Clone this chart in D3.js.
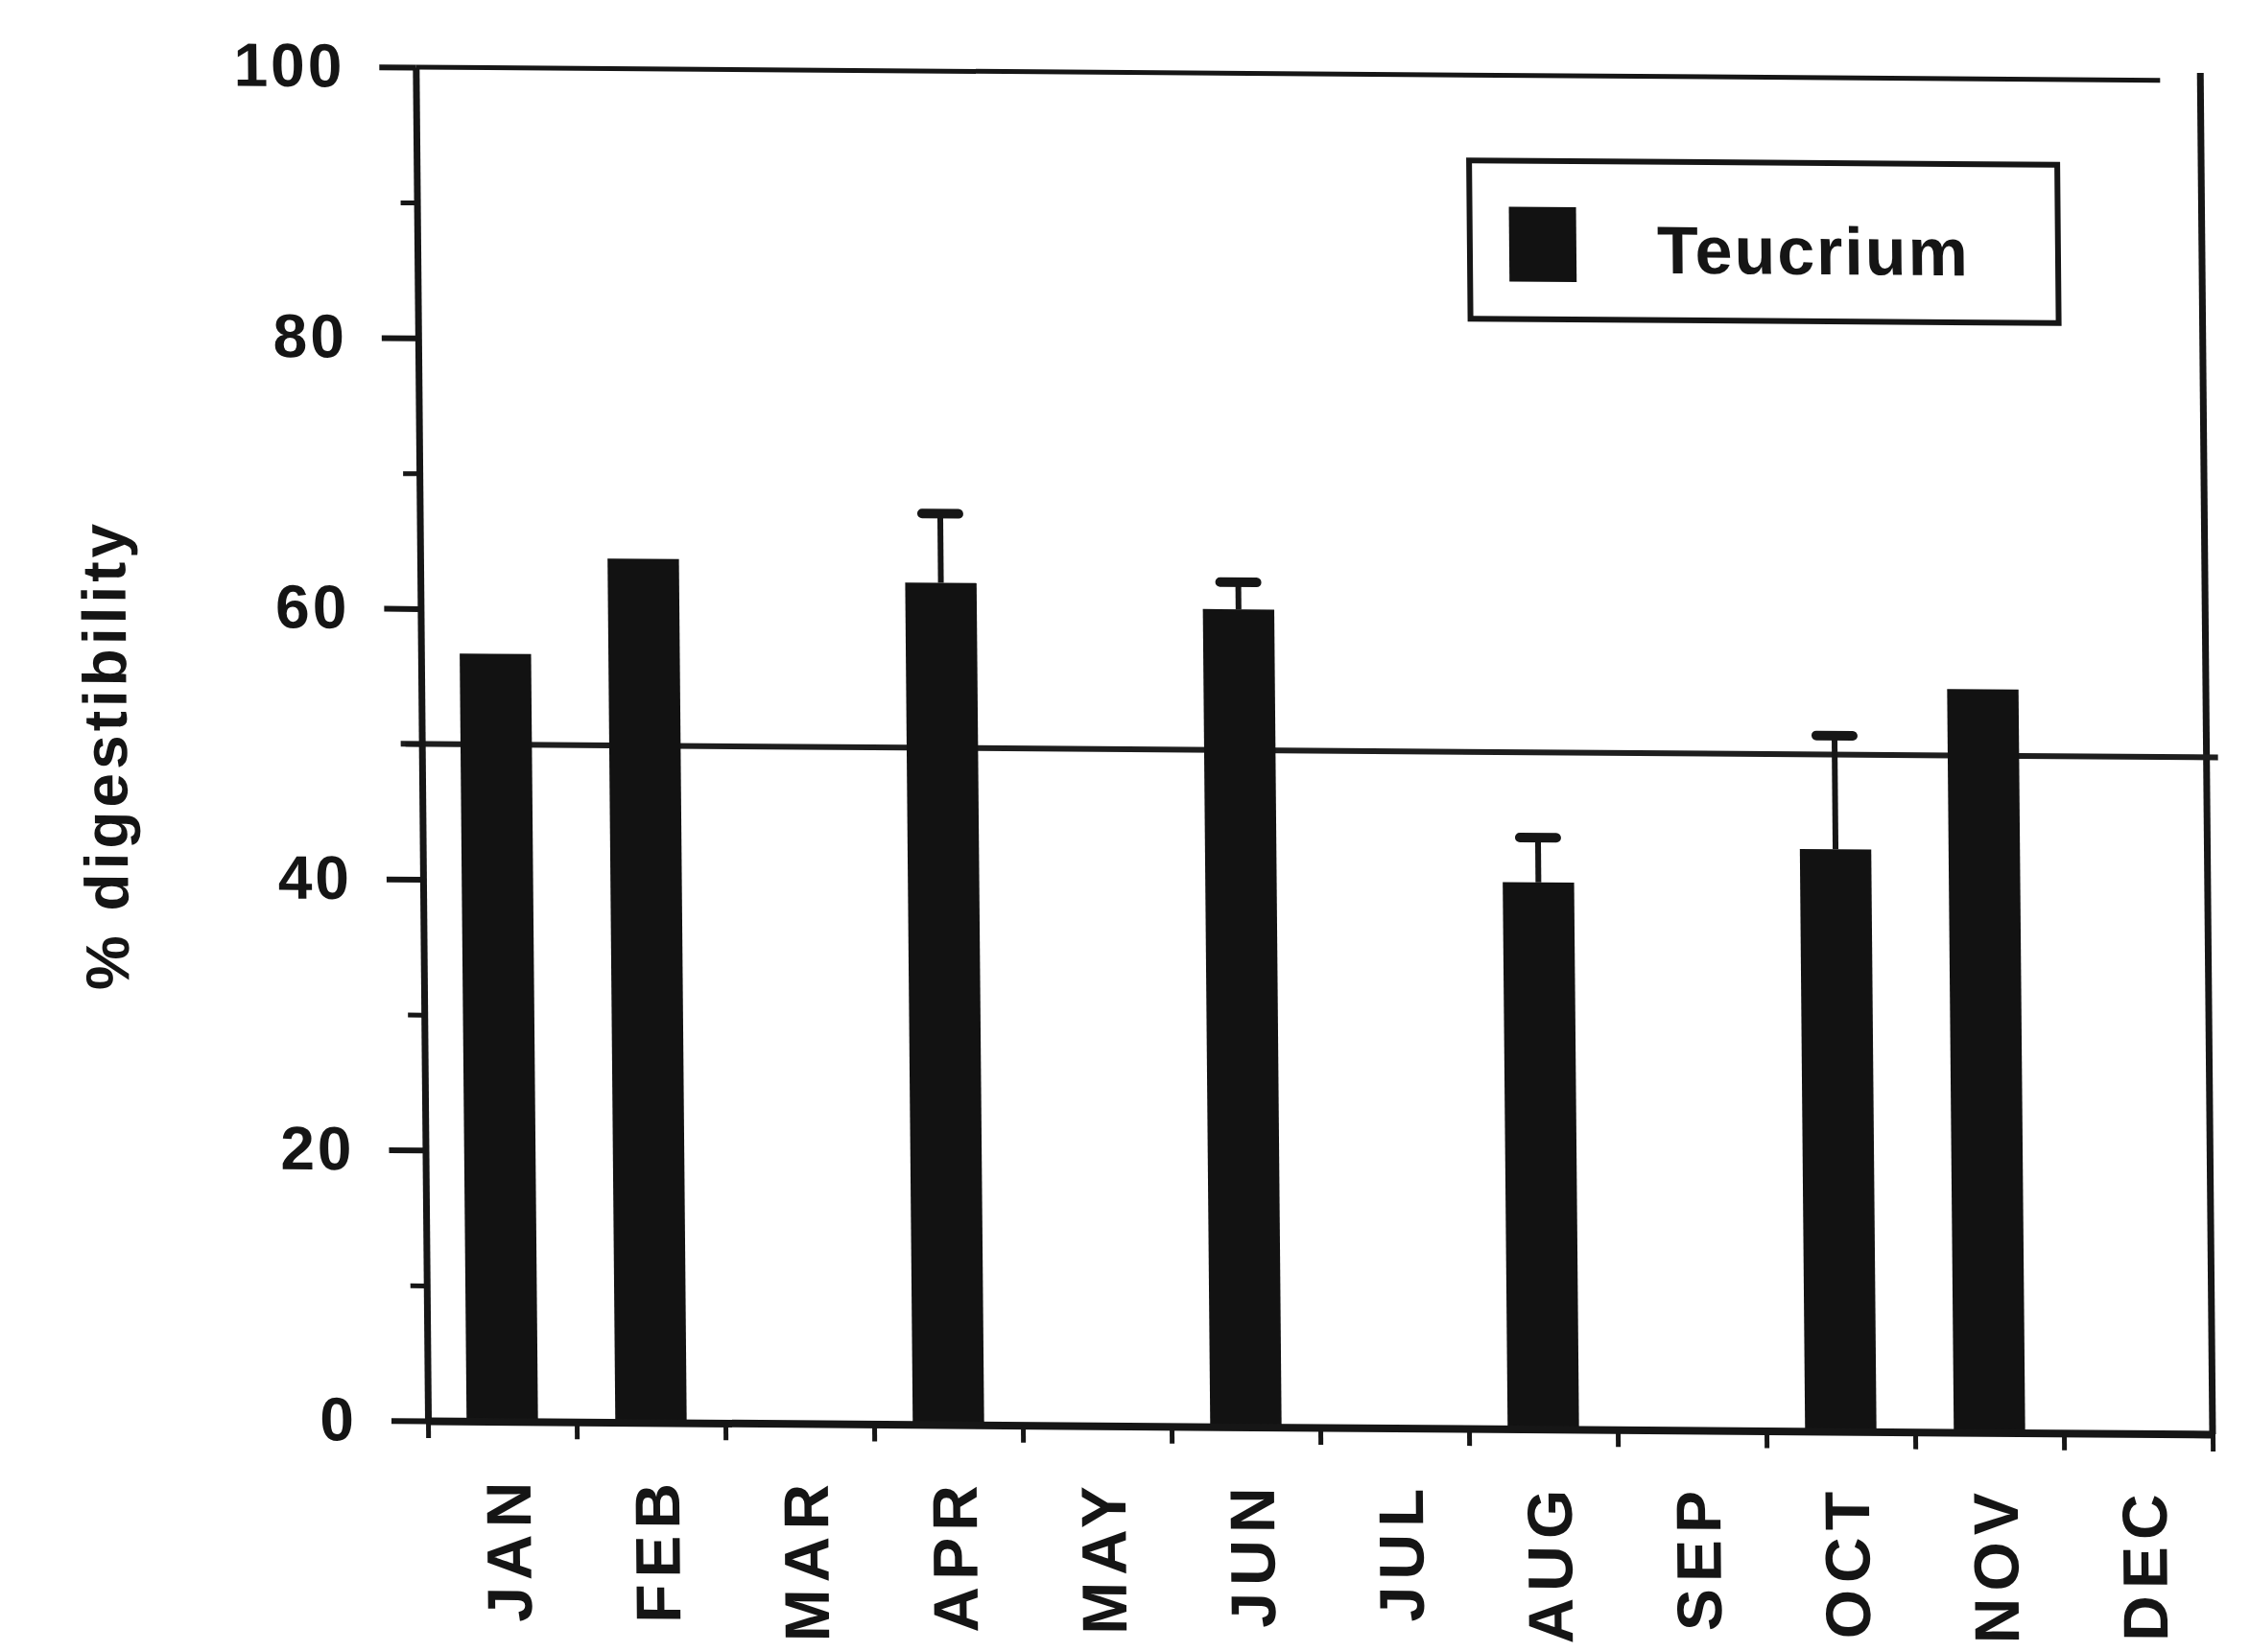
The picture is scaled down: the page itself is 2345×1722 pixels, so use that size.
<!DOCTYPE html>
<html>
<head>
<meta charset="utf-8">
<script src="https://cdn.jsdelivr.net/npm/d3@7"></script>
<style>
  html, body { margin: 0; padding: 0; background: #ffffff; }
  svg { display: block; }
  text { font-family: "Liberation Sans", Arial, Helvetica, sans-serif; font-weight: bold; fill: #151515; }
</style>
</head>
<body>
<script>
// ---- data ----
const months = ["JAN", "FEB", "MAR", "APR", "MAY", "JUN", "JUL", "AUG", "SEP", "OCT", "NOV", "DEC"];
const digestibility = [56.7, 63.8, null, 62.2, null, 60.4, null, 40.4, null, 43.0, 54.9, null];
const errorUpper = [null, null, null, 5.1, null, 2.0, null, 3.3, null, 8.4, null, null];
const yMajorTicks = [0, 20, 40, 60, 80, 100];
const yMinorTicks = [10, 30, 50, 70, 90];
const referenceLevel = 50;
const seriesName = "Teucrium";
const yAxisTitle = "% digestibility";

(function () {
// ---- layout ----
const W = 2345, H = 1722;
const pLeft = 446, pRight = 2306, pTop = 70, pBottom = 1481;
const ink = "#161616";

const svg = d3.select("body").append("svg").attr("width", W).attr("height", H);
svg.append("rect").attr("width", W).attr("height", H).attr("fill", "#ffffff");

// slight skew of the scanned figure
const a = 0.009, b = 0.0075;
const g = svg.append("g")
  .attr("transform", `matrix(1, ${b}, ${a}, 1, ${-a * pBottom}, ${-b * pLeft})`);

const x = d3.scaleBand().domain(months).range([pLeft, pRight]).paddingInner(0.52).paddingOuter(0.26);
const xEdges = d3.scaleLinear().domain([0, months.length]).range([pLeft, pRight]);
const y = d3.scaleLinear().domain([0, 100]).range([pBottom, pTop]);

// top frame line
g.append("line")
  .attr("x1", pLeft).attr("x2", pRight - 42)
  .attr("y1", y(100)).attr("y2", y(100))
  .attr("stroke", ink).attr("stroke-width", 5);

// right frame line
g.append("line")
  .attr("x1", pRight).attr("x2", pRight)
  .attr("y1", y(0)).attr("y2", y(100) - 8)
  .attr("stroke", ink).attr("stroke-width", 7);

// reference line at 50
g.append("line")
  .attr("x1", pLeft - 22).attr("x2", pRight + 12)
  .attr("y1", y(referenceLevel)).attr("y2", y(referenceLevel))
  .attr("stroke", "#1e1e1e").attr("stroke-width", 6);

// bars
const data = months.map((m, i) => ({ m, v: digestibility[i], e: errorUpper[i] }));
g.selectAll("rect.bar")
  .data(data.filter(d => d.v != null))
  .join("rect")
  .attr("class", "bar")
  .attr("x", d => x(d.m))
  .attr("width", x.bandwidth())
  .attr("y", d => y(d.v))
  .attr("height", d => y(0) - y(d.v))
  .attr("fill", "#121212");

// error bars (upper)
const eb = data.filter(d => d.v != null && d.e != null);
g.selectAll("line.errv")
  .data(eb)
  .join("line")
  .attr("class", "errv")
  .attr("x1", d => x(d.m) + x.bandwidth() / 2)
  .attr("x2", d => x(d.m) + x.bandwidth() / 2)
  .attr("y1", d => y(d.v))
  .attr("y2", d => y(d.v + d.e))
  .attr("stroke", ink).attr("stroke-width", 6);
g.selectAll("line.errc")
  .data(eb)
  .join("line")
  .attr("class", "errc")
  .attr("x1", d => x(d.m) + x.bandwidth() / 2 - 19)
  .attr("x2", d => x(d.m) + x.bandwidth() / 2 + 19)
  .attr("y1", d => y(d.v + d.e))
  .attr("y2", d => y(d.v + d.e))
  .attr("stroke", ink).attr("stroke-width", 10).attr("stroke-linecap", "round");

// y axis major
const yAxis = g.append("g").attr("transform", `translate(${pLeft},0)`)
  .call(d3.axisLeft(y).tickValues(yMajorTicks).tickSize(38).tickSizeOuter(0).tickPadding(36));
yAxis.select(".domain").attr("stroke", ink).attr("stroke-width", 7);
yAxis.selectAll(".tick line").attr("stroke", ink).attr("stroke-width", 6);
yAxis.selectAll(".tick text")
  .attr("font-size", 64).attr("letter-spacing", 3).attr("fill", "#151515")
  .attr("font-family", "'Liberation Sans', Arial, sans-serif").attr("font-weight", "bold");

// y axis minor
const yMinor = g.append("g").attr("transform", `translate(${pLeft},0)`)
  .call(d3.axisLeft(y).tickValues(yMinorTicks).tickSize(17).tickFormat(""));
yMinor.select(".domain").remove();
yMinor.selectAll(".tick line").attr("stroke", ink).attr("stroke-width", 5);

// x axis (ticks at category boundaries)
const xAxis = g.append("g").attr("transform", `translate(0,${pBottom})`)
  .call(d3.axisBottom(xEdges).tickValues(d3.range(0, months.length + 1)).tickSize(18).tickSizeOuter(0).tickFormat(""));
xAxis.select(".domain").attr("stroke", ink).attr("stroke-width", 8);
xAxis.selectAll(".tick line").attr("stroke", ink).attr("stroke-width", 5);

// month labels (rotated)
g.selectAll("text.month")
  .data(months)
  .join("text")
  .attr("class", "month")
  .attr("transform", m => `translate(${x(m) + x.bandwidth() / 2 + 5},${pBottom + 56}) rotate(-90)`)
  .attr("text-anchor", "end")
  .attr("dy", "0.36em")
  .attr("font-size", 66)
  .attr("letter-spacing", 7)
  .text(m => m);

// y axis title
g.append("text")
  .attr("transform", `translate(${pLeft - 330},${(y(0) + y(100)) / 2 + 14}) rotate(-90)`)
  .attr("text-anchor", "middle")
  .attr("dy", "0.35em")
  .attr("font-size", 64)
  .attr("letter-spacing", 4)
  .text(yAxisTitle);

// legend
const lg = g.append("g").attr("transform", "translate(1543,159)");
lg.append("rect").attr("x", 0).attr("y", 0).attr("width", 613).attr("height", 165)
  .attr("fill", "#ffffff").attr("stroke", ink).attr("stroke-width", 6);
lg.append("rect").attr("x", 41).attr("y", 48).attr("width", 70).attr("height", 78).attr("fill", "#121212");
lg.append("text").attr("x", 195).attr("y", 116).attr("font-size", 70).attr("letter-spacing", 2).text(seriesName);
})();
</script>
</body>
</html>
